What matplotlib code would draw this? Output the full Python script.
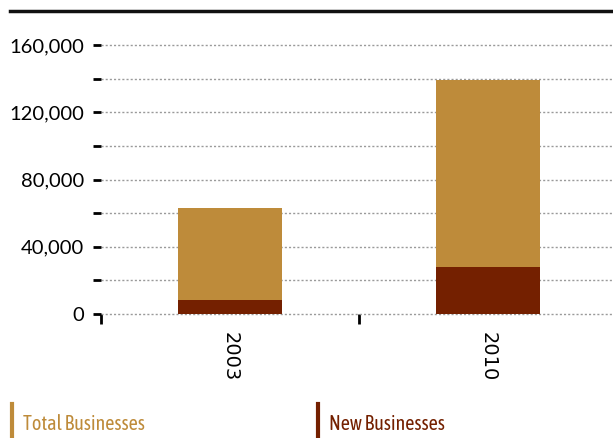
import matplotlib
matplotlib.use("Agg")
import matplotlib.pyplot as plt
from matplotlib.lines import Line2D
from matplotlib.ticker import MultipleLocator, FuncFormatter

years = ["2003", "2010"]
total_businesses = [63000, 139200]
new_businesses = [8300, 28000]

total_color = "#BE8B3A"
new_color = "#742000"

legend_family = ["Asap Condensed", "Archivo Narrow", "Lato", "DejaVu Sans"]
number_family = ["Lato", "DejaVu Sans"]

fig = plt.figure(figsize=(6.13, 4.38), dpi=100)
ax = fig.add_axes([101 / 613, 124 / 438, 516 / 613, 269 / 438])

x = list(range(len(years)))
ax.bar(x, total_businesses, width=0.4, color=total_color, zorder=2)
ax.bar(x, new_businesses, width=0.4, color=new_color, zorder=3)

ax.set_xlim(-0.5, 1.5)
ax.set_ylim(0, 160000)

for s in ax.spines.values():
    s.set_visible(False)

ax.yaxis.set_major_locator(MultipleLocator(40000))
ax.yaxis.set_minor_locator(MultipleLocator(20000))
ax.yaxis.set_major_formatter(FuncFormatter(lambda v, p: f"{int(v):,}"))
ax.tick_params(axis="y", which="both", length=6, width=2, color="black",
               labelsize=14.5, pad=6, direction="out")
for lbl in ax.get_yticklabels():
    lbl.set_family(number_family)

ax.grid(axis="y", which="both", linestyle=(0, (1.5, 1.5)), color="#9a9a9a",
        linewidth=1, zorder=0)
for gl in ax.yaxis.get_gridlines() + ax.yaxis.get_minorticklines():
    gl.set_clip_on(False)

ax.set_xticks([-0.5, 0.5])
ax.set_xticklabels([])
ax.set_xticks(x, minor=True)
ax.set_xticklabels(years, minor=True, rotation=270, fontsize=14)
ax.tick_params(axis="x", which="major", length=7, width=2, color="black")
ax.tick_params(axis="x", which="minor", length=0, pad=13)

fig.add_artist(Line2D([10 / 613, 1.0], [1 - 11 / 438] * 2, color="#111111",
                      linewidth=2.5, transform=fig.transFigure))

legend_items = [("Total Businesses", total_color, 10),
                ("New Businesses", new_color, 316)]
for label, color, px in legend_items:
    fig.add_artist(Line2D([(px + 1.5) / 613] * 2, [1 - 404 / 438, 0.0],
                          color=color, linewidth=3, transform=fig.transFigure))
    fig.text((px + 13) / 613, 1 - 424 / 438, label, color=color, fontsize=14.5,
             family=legend_family, va="center", ha="left")

fig.savefig("out.png", dpi=100)
